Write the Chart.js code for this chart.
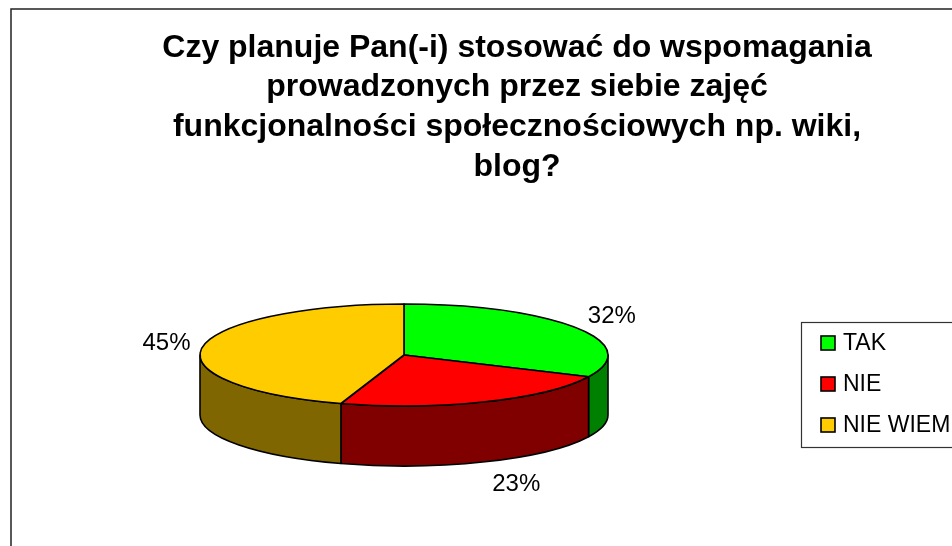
<!DOCTYPE html>
<html>
<head>
<meta charset="utf-8">
<script src="https://cdn.jsdelivr.net/npm/chart.js@4/dist/chart.umd.min.js"></script>
<style>
  html, body { margin: 0; padding: 0; background: #fff; }
  canvas { display: block; }
</style>
</head>
<body>
<canvas id="pie3d" width="952" height="546"></canvas>
<script>
const labels = ['TAK', 'NIE', 'NIE WIEM'];
const values = [32, 23, 45];
const topColors = ['#00FF00', '#FF0000', '#FFCC00'];
const sideColors = ['#008000', '#800000', '#806600'];
const titleLines = [
    'Czy planuje Pan(-i) stosować do wspomagania',
    'prowadzonych przez siebie zajęć',
    'funkcjonalności społecznościowych np. wiki,',
    'blog?'
];

const FONT = "'Liberation Sans', Arial, sans-serif";

// tilted pie geometry
const CX = 404, CY = 355, RX = 204, RY = 51, DEPTH = 60;

function pct(v) {
    const total = values.reduce((a, b) => a + b, 0);
    return Math.round(v / total * 100) + '%';
}

function drawWall(ctx, a, b, fill) {
    ctx.beginPath();
    ctx.ellipse(CX, CY, RX, RY, 0, a, b);
    ctx.lineTo(CX + RX * Math.cos(b), CY + DEPTH + RY * Math.sin(b));
    ctx.ellipse(CX, CY + DEPTH, RX, RY, 0, b, a, true);
    ctx.closePath();
    ctx.fillStyle = fill;
    ctx.fill();
    ctx.stroke();
}

const pie3d = {
    id: 'pie3d',
    beforeDatasetsDraw(chart) {
        const ctx = chart.ctx;
        const arcs = chart.getDatasetMeta(0).data;
        ctx.save();
        ctx.lineWidth = 1.6;
        ctx.strokeStyle = '#000';
        ctx.lineJoin = 'round';

        // outer wall, only the front half is visible
        arcs.forEach((arc, i) => {
            const a = Math.max(arc.startAngle, 0);
            const b = Math.min(arc.endAngle, Math.PI);
            if (a < b) drawWall(ctx, a, b, sideColors[i]);
        });

        // top faces
        arcs.forEach((arc, i) => {
            ctx.beginPath();
            ctx.moveTo(CX, CY);
            ctx.ellipse(CX, CY, RX, RY, 0, arc.startAngle, arc.endAngle);
            ctx.closePath();
            ctx.fillStyle = topColors[i];
            ctx.fill();
            ctx.stroke();
        });

        // percentage labels outside the slices
        ctx.font = '24px ' + FONT;
        ctx.fillStyle = '#000';
        ctx.textAlign = 'center';
        ctx.textBaseline = 'middle';
        arcs.forEach((arc, i) => {
            const m = (arc.startAngle + arc.endAngle) / 2;
            const c = Math.cos(m), s = Math.sin(m);
            // direction of the slice middle as seen on the flattened ellipse
            const len = Math.hypot(RX * c, RY * s);
            const pc = RX * c / len, ps = RY * s / len;
            const txt = pct(values[i]);
            const w = ctx.measureText(txt).width;
            const ax = CX + RX * c + 12 * pc;
            const ay = CY + RY * s + 12 * ps + (s > 0 ? DEPTH : 0);
            ctx.fillText(txt, ax + pc * w / 2, ay + s * 18);
        });
        ctx.restore();
        return false;
    },
    afterDraw(chart) {
        const ctx = chart.ctx;
        ctx.save();

        // outer frame
        ctx.strokeStyle = '#222';
        ctx.lineWidth = 1.5;
        ctx.beginPath();
        ctx.moveTo(11, 560);
        ctx.lineTo(11, 9);
        ctx.lineTo(960, 9);
        ctx.stroke();

        // legend
        ctx.strokeStyle = '#333';
        ctx.lineWidth = 1.2;
        ctx.strokeRect(801.5, 322.5, 200, 125);
        ctx.font = '23px ' + FONT;
        ctx.textBaseline = 'middle';
        ctx.textAlign = 'left';
        labels.forEach((lab, i) => {
            const y = 343 + i * 41;
            ctx.fillStyle = topColors[i];
            ctx.fillRect(821, y - 7, 14, 14);
            ctx.strokeStyle = '#000';
            ctx.lineWidth = 1.6;
            ctx.strokeRect(821, y - 7, 14, 14);
            ctx.fillStyle = '#000';
            ctx.fillText(lab, 843, y + 1);
        });
        ctx.restore();
    }
};

new Chart(document.getElementById('pie3d'), {
    type: 'pie',
    data: {
        labels: labels,
        datasets: [{
            data: values,
            backgroundColor: topColors,
            borderColor: '#000'
        }]
    },
    options: {
        responsive: false,
        animation: false,
        layout: { padding: { left: 82, top: 0 } },
        plugins: {
            legend: { display: false },
            tooltip: { enabled: false },
            title: {
                display: true,
                text: titleLines,
                color: '#000',
                font: { family: FONT, size: 32, weight: 'bold', lineHeight: 1.24 },
                padding: { top: 28, bottom: 10 }
            }
        }
    },
    plugins: [pie3d]
});
</script>
</body>
</html>
